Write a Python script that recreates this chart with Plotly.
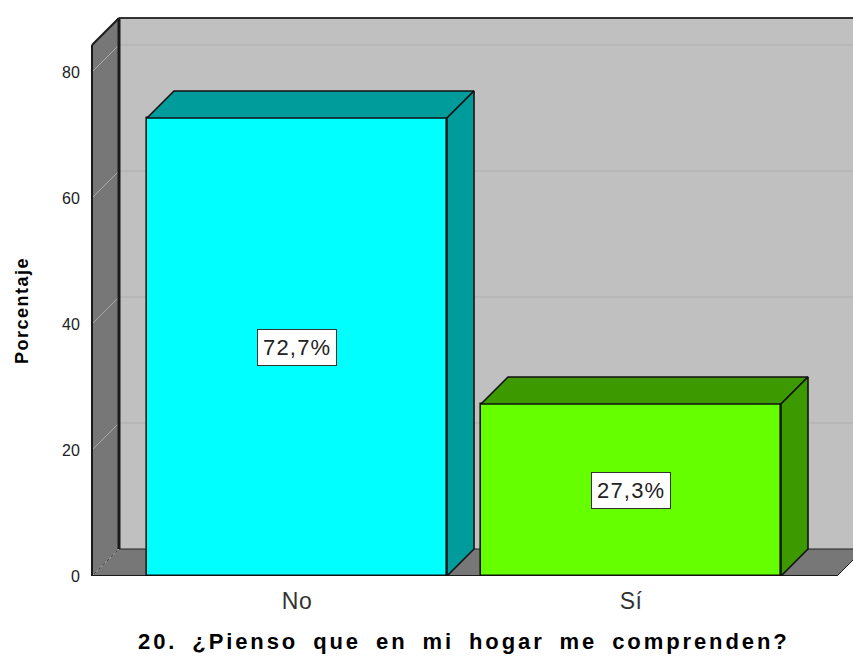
import plotly.graph_objects as go

# ---- data ----
categories = ["No", "Sí"]
percentages = [72.7, 27.3]
front_colors = ["#00FFFF", "#66FF00"]
shade_colors = ["#009C9C", "#3C9A00"]
y_ticks = [0, 20, 40, 60, 80]
x_title = "20. ¿Pienso que en mi hogar me comprenden?"
y_title = "Porcentaje"

# ---- layout geometry (reference pixels) ----
W, H = 853, 657
L, R, T, B = 89, 0, 16, 657 - 576
PX_X = 334.0           # pixels per category step
PX_Y = 6.3             # pixels per percentage unit
CAT0_PX = 297.0        # pixel x of first category centre
x_lo = -(CAT0_PX - L) / PX_X
x_hi = (W - R - CAT0_PX) / PX_X
y_hi = (H - B - T) / PX_Y
dx = 27 / PX_X         # 3D depth offset
dy = 27 / PX_Y
wall_x = (92 - CAT0_PX) / PX_X
floor_end = (837 - CAT0_PX) / PX_X
top_back = (576 - 18) / PX_Y
top_front = top_back - dy
bar_w = 300 / PX_X

FONT = "Liberation Sans, Arial, sans-serif"

def spaced(t, px, word=0):
    return f'<span style="letter-spacing:{px}px;word-spacing:{word}px">{t}</span>'

def paper_x(px):
    return (px - L) / (W - L - R)

def paper_y(py):
    return (H - B - py) / (H - B - T)

fig = go.Figure()

xs = list(range(len(categories)))
fig.add_trace(go.Bar(
    x=xs, y=percentages, width=bar_w,
    marker=dict(color=front_colors, line=dict(color="#111111", width=1.6)),
    hoverinfo="skip", showlegend=False,
))

for i, v in enumerate(percentages):
    xl, xr = i - bar_w / 2, i + bar_w / 2
    fig.add_trace(go.Scatter(
        x=[xl, xr, xr + dx, xl + dx, xl], y=[v, v, v + dy, v + dy, v],
        fill="toself", fillcolor=shade_colors[i], mode="lines",
        line=dict(color="#111111", width=1.6), hoverinfo="skip", showlegend=False))
    fig.add_trace(go.Scatter(
        x=[xr, xr + dx, xr + dx, xr, xr], y=[0, dy, v + dy, v, 0],
        fill="toself", fillcolor=shade_colors[i], mode="lines",
        line=dict(color="#111111", width=1.6), hoverinfo="skip", showlegend=False))

shapes = []
shapes.append(dict(type="rect", xref="x", yref="y", x0=wall_x + dx, x1=x_hi + 1,
                   y0=dy, y1=top_back, fillcolor="#C0C0C0", line=dict(width=0), layer="below"))
shapes.append(dict(type="path", xref="x", yref="y",
                   path=f"M{wall_x},0 L{floor_end},0 L{floor_end + dx},{dy} L{wall_x + dx},{dy} Z",
                   fillcolor="#777777", line=dict(color="#222222", width=1), layer="below"))
shapes.append(dict(type="path", xref="x", yref="y",
                   path=f"M{wall_x},0 L{wall_x},{top_front} L{wall_x + dx},{top_back} L{wall_x + dx},{dy} Z",
                   fillcolor="#777777", line=dict(width=0), layer="below"))
for t in y_ticks[1:]:
    shapes.append(dict(type="line", xref="x", yref="y", x0=wall_x, y0=t, x1=wall_x + dx, y1=t + dy,
                       line=dict(color="#A8A8A8", width=1), layer="below"))
    shapes.append(dict(type="line", xref="x", yref="y", x0=wall_x + dx, y0=t + dy, x1=x_hi + 1, y1=t + dy,
                       line=dict(color="#ADADAD", width=1), layer="below"))
shapes.append(dict(type="line", xref="x", yref="y", x0=wall_x, y0=0, x1=wall_x + dx, y1=dy,
                   line=dict(color="#A8A8A8", width=1, dash="dot"), layer="below"))
shapes.append(dict(type="line", xref="x", yref="y", x0=wall_x + dx, y0=dy, x1=wall_x + dx, y1=top_back,
                   line=dict(color="#1A1A1A", width=3), layer="below"))
shapes.append(dict(type="line", xref="x", yref="y", x0=wall_x + dx, y0=top_back, x1=x_hi + 1, y1=top_back,
                   line=dict(color="#333333", width=2), layer="below"))
shapes.append(dict(type="line", xref="x", yref="y", x0=wall_x, y0=0, x1=wall_x, y1=top_front,
                   line=dict(color="#1A1A1A", width=2), layer="below"))
shapes.append(dict(type="line", xref="x", yref="y", x0=wall_x, y0=top_front, x1=wall_x + dx, y1=top_back,
                   line=dict(color="#1A1A1A", width=2), layer="below"))
shapes.append(dict(type="line", xref="x", yref="y", x0=wall_x, y0=0, x1=floor_end, y1=0,
                   line=dict(color="#1A1A1A", width=2), layer="below"))

annotations = []
for i, v in enumerate(percentages):
    annotations.append(dict(
        x=i, y=v / 2, xref="x", yref="y", showarrow=False,
        text=spaced(f"{v:.1f}%".replace(".", ","), 1.2),
        font=dict(family=FONT, size=22, color="#222222"),
        bgcolor="#FFFFFF", bordercolor="#333333", borderwidth=1, borderpad=5))
annotations.append(dict(
    x=paper_x(464), y=paper_y(641), xref="paper", yref="paper", showarrow=False,
    text=spaced(f"<b>{x_title}</b>", 2.9, 6), font=dict(family=FONT, size=22, color="#000000"),
    xanchor="center", yanchor="middle"))
annotations.append(dict(
    x=paper_x(22), y=paper_y(311), xref="paper", yref="paper", showarrow=False, textangle=-90,
    text=spaced(f"<b>{y_title}</b>", 1.5), font=dict(family=FONT, size=18, color="#000000"),
    xanchor="center", yanchor="middle"))

fig.update_layout(
    width=W, height=H,
    margin=dict(l=L, r=R, t=T, b=B, pad=0),
    paper_bgcolor="#FFFFFF", plot_bgcolor="#FFFFFF",
    shapes=shapes, annotations=annotations,
    xaxis=dict(range=[x_lo, x_hi], tickvals=xs,
               ticktext=[spaced(c, 0.5) for c in categories], showgrid=False,
               zeroline=False, showline=False, ticks="outside", ticklen=4,
               tickcolor="rgba(0,0,0,0)", tickfont=dict(family=FONT, size=23, color="#333333"),
               fixedrange=True),
    yaxis=dict(range=[0, y_hi], tickvals=y_ticks, ticktext=[str(t) for t in y_ticks],
               showgrid=False, zeroline=False, showline=False, ticks="outside", ticklen=5,
               tickcolor="rgba(0,0,0,0)", tickfont=dict(family=FONT, size=16, color="#222222"),
               fixedrange=True),
    bargap=0,
)

fig.write_html("out.html", config={"displayModeBar": False},
               post_script="document.body.style.margin='0';document.body.style.overflow='hidden';")
